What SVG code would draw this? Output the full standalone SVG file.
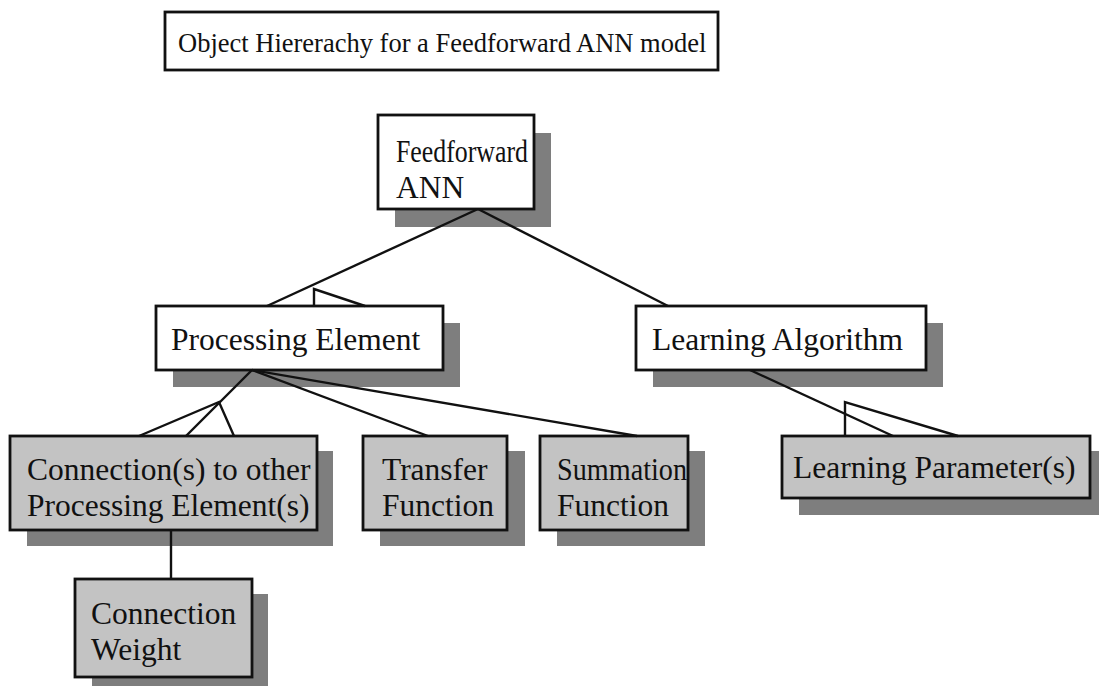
<svg xmlns="http://www.w3.org/2000/svg" width="1099" height="686" viewBox="0 0 1099 686">
  <style>
    text { font-family: "Liberation Serif", "Times New Roman", serif; fill: #111; }
    .title { font-size: 26.5px; }
    .lbl { font-size: 31.5px; }
    .box { stroke: #111; stroke-width: 2.8; }
    .white { fill: #ffffff; }
    .grey { fill: #c3c3c3; }
    .shadow { fill: #7e7e7e; }
    .conn { fill: none; stroke: #111; stroke-width: 2.4; stroke-linejoin: miter; }
  </style>
  <rect width="1099" height="686" fill="#ffffff"/>

  <g id="title">
    <rect class="box white" x="165" y="12" width="553" height="58"/>
    <text class="title" x="178" y="52">Object Hiererachy for a Feedforward ANN model</text>
  </g>

  <g id="feedforward-ann">
    <rect class="shadow" x="395" y="133" width="156" height="94"/>
    <rect class="box white" x="378" y="115" width="156" height="94"/>
    <text class="lbl" x="396" y="162" textLength="132" lengthAdjust="spacingAndGlyphs">Feedforward</text>
    <text class="lbl" x="396" y="198">ANN</text>
  </g>

  <g id="processing-element">
    <rect class="shadow" x="173" y="323" width="287" height="64"/>
    <rect class="box white" x="156" y="306" width="287" height="64"/>
    <text class="lbl" x="171" y="350">Processing Element</text>
  </g>

  <g id="learning-algorithm">
    <rect class="shadow" x="653" y="323" width="290" height="64"/>
    <rect class="box white" x="636" y="306" width="290" height="64"/>
    <text class="lbl" x="652" y="350">Learning Algorithm</text>
  </g>

  <g id="connections">
    <rect class="shadow" x="27" y="451" width="306" height="95"/>
    <rect class="box grey" x="10" y="436" width="307" height="94"/>
    <text class="lbl" x="27" y="480">Connection(s) to other</text>
    <text class="lbl" x="27" y="516">Processing Element(s)</text>
  </g>

  <g id="transfer-function">
    <rect class="shadow" x="380" y="451" width="145" height="95"/>
    <rect class="box grey" x="363" y="436" width="144" height="94"/>
    <text class="lbl" x="382" y="480">Transfer</text>
    <text class="lbl" x="382" y="516">Function</text>
  </g>

  <g id="summation-function">
    <rect class="shadow" x="557" y="451" width="148" height="95"/>
    <rect class="box grey" x="540" y="436" width="148" height="94"/>
    <text class="lbl" x="557" y="480" textLength="130" lengthAdjust="spacingAndGlyphs">Summation</text>
    <text class="lbl" x="557" y="516">Function</text>
  </g>

  <g id="learning-parameters">
    <rect class="shadow" x="799" y="451" width="300" height="64"/>
    <rect class="box grey" x="782" y="436" width="308" height="62"/>
    <text class="lbl" x="793" y="478">Learning Parameter(s)</text>
  </g>

  <g id="connection-weight">
    <rect class="shadow" x="92" y="594" width="176" height="100"/>
    <rect class="box grey" x="75" y="579" width="177" height="98"/>
    <text class="lbl" x="91" y="624">Connection</text>
    <text class="lbl" x="91" y="660">Weight</text>
  </g>

  <g id="connectors">
    <!-- Feedforward ANN to its two parts -->
    <line class="conn" x1="478" y1="209" x2="267" y2="306"/>
    <polyline class="conn" points="314,306 314,289 365,306"/>
    <line class="conn" x1="478" y1="209" x2="668" y2="306"/>
    <!-- Processing Element to its parts -->
    <line class="conn" x1="252" y1="370" x2="186" y2="436"/>
    <polyline class="conn" points="139,436 219,402 234,436"/>
    <line class="conn" x1="252" y1="370" x2="428" y2="436"/>
    <line class="conn" x1="252" y1="370" x2="637" y2="436"/>
    <!-- Learning Algorithm to Learning Parameter(s) -->
    <line class="conn" x1="750" y1="370" x2="893" y2="436"/>
    <polyline class="conn" points="845,436 845,402 958,436"/>
    <!-- Connection(s) to Connection Weight -->
    <line class="conn" x1="171" y1="530" x2="171" y2="579"/>
  </g>
</svg>
